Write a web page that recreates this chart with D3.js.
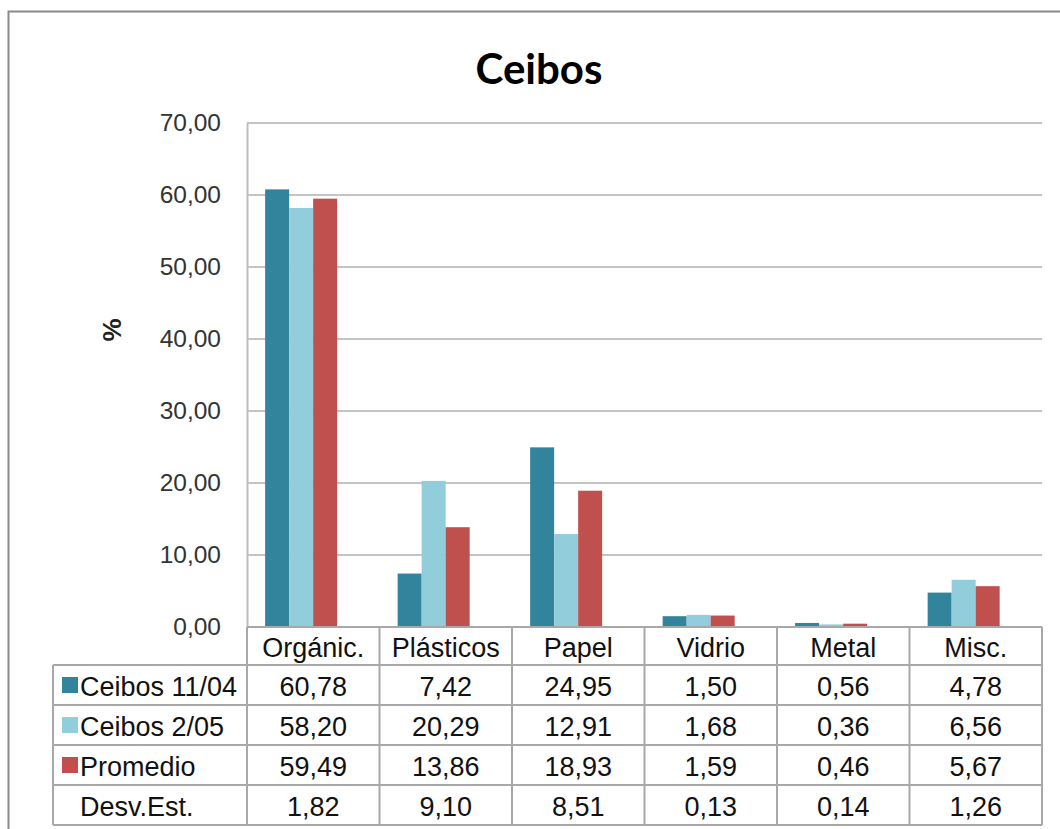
<!DOCTYPE html>
<html>
<head>
<meta charset="utf-8">
<script src="https://cdn.jsdelivr.net/npm/d3@7"></script>
<style>
  html, body { margin: 0; padding: 0; background: #fff; }
  svg { display: block; }
</style>
</head>
<body>
<svg id="chart" width="1060" height="829"></svg>
<script>
// ---- data ----
const categories = ["Orgánic.", "Plásticos", "Papel", "Vidrio", "Metal", "Misc."];
const seriesNames = ["Ceibos 11/04", "Ceibos 2/05", "Promedio"];
const ceibos1104 = [60.78, 7.42, 24.95, 1.50, 0.56, 4.78];
const ceibos0205 = [58.20, 20.29, 12.91, 1.68, 0.36, 6.56];
const promedio   = [59.49, 13.86, 18.93, 1.59, 0.46, 5.67];
const desvEst    = [1.82, 9.10, 8.51, 0.13, 0.14, 1.26];
const yTicks = [0, 10, 20, 30, 40, 50, 60, 70];
const seriesColors = ["#31849B", "#92CDDC", "#C0504D"];

const seriesValues = [ceibos1104, ceibos0205, promedio];
const tableRows = [
  { name: seriesNames[0], values: ceibos1104, color: seriesColors[0] },
  { name: seriesNames[1], values: ceibos0205, color: seriesColors[1] },
  { name: seriesNames[2], values: promedio,   color: seriesColors[2] },
  { name: "Desv.Est.",    values: desvEst,    color: null }
];

// ---- layout ----
const plot = { left: 247, right: 1042, top: 123, bottom: 627 };
const tableLeft = 53;
const headerBottom = 665;
const rowH = 40;
const fmt = v => d3.format(".2f")(v).replace(".", ",");

const svg = d3.select("#chart");

// outer frame
svg.append("rect")
  .attr("x", 8.5).attr("y", 11.5).attr("width", 1100).attr("height", 900)
  .attr("fill", "none").attr("stroke", "#8a8a8a").attr("stroke-width", 2);

// title
svg.append("text")
  .attr("x", 539).attr("y", 84)
  .attr("text-anchor", "middle")
  .attr("font-family", "Lato, 'Open Sans', sans-serif")
  .attr("font-weight", "bold")
  .attr("font-size", 42)
  .attr("fill", "#000")
  .text("Ceibos");

// scales
const x0 = d3.scaleBand().domain(categories).range([plot.left, plot.right]).padding(0);
const x1 = d3.scaleBand().domain(d3.range(seriesNames.length))
  .range([0, x0.bandwidth()]).paddingInner(0).paddingOuter(1.26).align(0.3);
const y = d3.scaleLinear().domain([0, 70]).range([plot.bottom, plot.top]);

// gridlines
svg.append("g").selectAll("line").data(yTicks.filter(t => t > 0)).join("line")
  .attr("x1", plot.left).attr("x2", plot.right)
  .attr("y1", d => y(d)).attr("y2", d => y(d))
  .attr("stroke", "#c4c4c4").attr("stroke-width", 2);

// y axis
const yAxis = d3.axisLeft(y).tickValues(yTicks).tickSize(0).tickPadding(26).tickFormat(fmt);
const gy = svg.append("g").attr("transform", `translate(${plot.left},0)`).call(yAxis);
gy.select(".domain").attr("stroke", "#bdbdbd").attr("stroke-width", 2);
gy.selectAll("text")
  .attr("font-family", "'Liberation Sans', Arial, sans-serif")
  .attr("font-size", 24.5)
  .attr("fill", "#333");

// y label
svg.append("text")
  .attr("transform", "translate(121,330) rotate(-90)")
  .attr("text-anchor", "middle")
  .attr("font-family", "'Liberation Sans', Arial, sans-serif")
  .attr("font-weight", "bold")
  .attr("font-size", 26)
  .attr("fill", "#222")
  .text("%");

// bars
const groups = svg.append("g").selectAll("g").data(categories).join("g")
  .attr("transform", d => `translate(${x0(d)},0)`);
groups.selectAll("rect")
  .data((c, ci) => seriesValues.map((vals, si) => ({ si, v: vals[ci] })))
  .join("rect")
  .attr("x", d => x1(d.si))
  .attr("width", x1.bandwidth())
  .attr("y", d => y(d.v))
  .attr("height", d => y(0) - y(d.v))
  .attr("fill", d => seriesColors[d.si]);

// ---- data table ----
const tbl = svg.append("g");
const lineColor = "#a8a8a8";
const tableBottom = headerBottom + rowH * tableRows.length;
const tFont = "'Liberation Sans', Arial, sans-serif";
const tSize = 27;

// horizontal lines
const hLines = [{ y: plot.bottom, x1: plot.left, x2: plot.right }];
for (let i = 0; i <= tableRows.length; i++) {
  hLines.push({ y: headerBottom + i * rowH, x1: tableLeft, x2: plot.right });
}
tbl.selectAll("line.h").data(hLines).join("line")
  .attr("x1", d => d.x1).attr("x2", d => d.x2)
  .attr("y1", d => d.y).attr("y2", d => d.y)
  .attr("stroke", lineColor).attr("stroke-width", 2);

// vertical lines
const vXs = categories.map(c => x0(c)).concat([plot.right]);
tbl.selectAll("line.v").data(vXs).join("line")
  .attr("x1", d => d).attr("x2", d => d)
  .attr("y1", plot.bottom).attr("y2", tableBottom)
  .attr("stroke", lineColor).attr("stroke-width", 2);
tbl.append("line")
  .attr("x1", tableLeft).attr("x2", tableLeft)
  .attr("y1", headerBottom).attr("y2", tableBottom)
  .attr("stroke", lineColor).attr("stroke-width", 2);

// header labels
tbl.selectAll("text.hdr").data(categories).join("text")
  .attr("x", d => x0(d) + x0.bandwidth() / 2)
  .attr("y", (plot.bottom + headerBottom) / 2 + 2)
  .attr("text-anchor", "middle").attr("dominant-baseline", "central")
  .attr("font-family", tFont).attr("font-size", tSize).attr("fill", "#111")
  .text(d => d);

// rows
tableRows.forEach((row, ri) => {
  const cy = headerBottom + ri * rowH + rowH / 2;
  if (row.color) {
    tbl.append("rect")
      .attr("x", 62).attr("y", cy - 8).attr("width", 16).attr("height", 16)
      .attr("fill", row.color);
  }
  tbl.append("text")
    .attr("x", 80).attr("y", cy + 2)
    .attr("dominant-baseline", "central")
    .attr("font-family", tFont).attr("font-size", tSize).attr("fill", "#111")
    .text(row.name);
  tbl.selectAll(null).data(row.values).join("text")
    .attr("x", (d, i) => x0(categories[i]) + x0.bandwidth() / 2)
    .attr("y", cy + 2)
    .attr("text-anchor", "middle").attr("dominant-baseline", "central")
    .attr("font-family", tFont).attr("font-size", tSize).attr("fill", "#111")
    .text(d => fmt(d));
});
</script>
</body>
</html>
